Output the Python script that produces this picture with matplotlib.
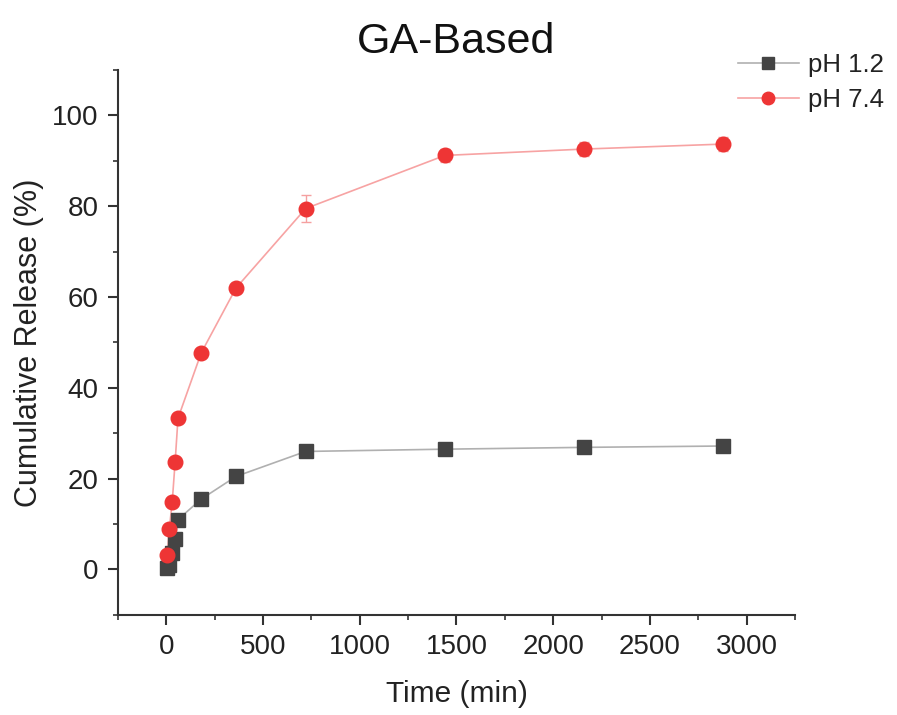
import matplotlib.pyplot as plt
from matplotlib.ticker import MultipleLocator

plt.rcParams['font.family'] = ['Liberation Sans', 'DejaVu Sans']

time_min = [5, 15, 30, 45, 60, 180, 360, 720, 1440, 2160, 2880]
ph12 = [0.4, 1.1, 3.7, 6.8, 11.0, 15.5, 20.5, 26.0, 26.5, 26.9, 27.2]
ph12_err = [0.3, 0.3, 0.4, 0.5, 0.6, 0.6, 0.8, 1.2, 0.9, 0.8, 0.8]
ph74 = [3.3, 8.9, 14.8, 23.6, 33.3, 47.7, 62.0, 79.5, 91.2, 92.6, 93.7]
ph74_err = [0.5, 0.6, 0.7, 0.8, 0.9, 0.8, 1.0, 3.0, 1.5, 1.5, 1.6]

fig = plt.figure(figsize=(8.97, 7.15), dpi=100)
ax = fig.add_axes([0.1316, 0.14, 0.7546, 0.762])

# pH 1.2 series
ax.plot(time_min, ph12, color='#b0b0b0', lw=1.2, zorder=2)
ax.errorbar(time_min, ph12, yerr=ph12_err, fmt='s', ms=9.5, color='#444444',
            ecolor='#999999', elinewidth=1, capsize=3.5, zorder=3)
# pH 7.4 series
ax.plot(time_min, ph74, color='#f7a3a3', lw=1.2, zorder=2)
ax.errorbar(time_min, ph74, yerr=ph74_err, fmt='o', ms=10.5, color='#ee3535',
            ecolor='#f5a0a0', elinewidth=1, capsize=3.5, zorder=3)

# legend handles
h1, = ax.plot([], [], color='#b0b0b0', lw=1.2, marker='s', ms=8,
              markerfacecolor='#444444', markeredgecolor='#444444')
h2, = ax.plot([], [], color='#f7a3a3', lw=1.2, marker='o', ms=9,
              markerfacecolor='#ee3535', markeredgecolor='#ee3535')
fig.legend([h1, h2], ['pH 1.2', 'pH 7.4'], loc='upper left',
           bbox_to_anchor=(0.805, 0.947), frameon=False, fontsize=18.5,
           handlelength=2.4, labelspacing=0.4, handletextpad=0.35,
           labelcolor='#222222', borderaxespad=0.2)

ax.set_xlim(-250, 3250)
ax.set_ylim(-10, 110)
ax.xaxis.set_major_locator(MultipleLocator(500))
ax.xaxis.set_minor_locator(MultipleLocator(250))
ax.yaxis.set_major_locator(MultipleLocator(20))
ax.yaxis.set_minor_locator(MultipleLocator(10))

for s in ['top', 'right']:
    ax.spines[s].set_visible(False)
for s in ['left', 'bottom']:
    ax.spines[s].set_linewidth(1.5)
    ax.spines[s].set_color('#333333')

ax.tick_params(which='major', direction='out', length=7, width=1.5,
               labelsize=20, colors='#333333', labelcolor='#222222', pad=7)
ax.tick_params(which='minor', direction='out', length=3.5, width=1.2,
               colors='#333333')

ax.set_xlabel('Time (min)', fontsize=21.5, color='#222222', labelpad=14)
ax.set_ylabel('Cumulative Release (%)', fontsize=22, color='#222222', labelpad=6)
ax.set_title('GA-Based', fontsize=31, color='#111111', pad=12)

plt.savefig('out.png', dpi=100)
